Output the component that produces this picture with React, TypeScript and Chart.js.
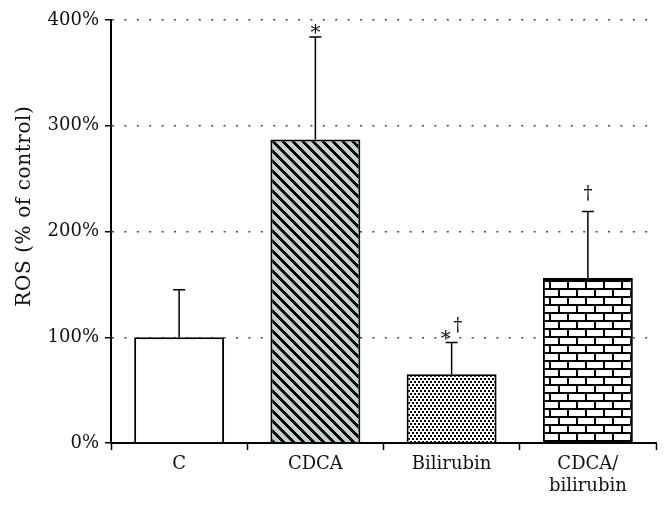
import React, { useEffect, useRef } from "react";
import { Chart, registerables } from "chart.js";

Chart.register(...registerables);

const categories: string[][] = [["C"], ["CDCA"], ["Bilirubin"], ["CDCA/", "bilirubin"]];
const rosMeans: number[] = [100, 287, 65, 156];
const rosUpperErrors: number[] = [45, 97, 30, 63];
const asteriskMarks: boolean[] = [false, true, true, false];
const daggerMarks: boolean[] = [false, false, true, true];
const yTickValues: number[] = [0, 100, 200, 300, 400];
const yTitle = "ROS (% of control)";

const FONT_FAMILY = "'DejaVu Serif', 'Liberation Serif', serif";

function makeTile(w: number, h: number, draw: (ctx: CanvasRenderingContext2D) => void): CanvasPattern | string {
  const c = document.createElement("canvas");
  c.width = w;
  c.height = h;
  const ctx = c.getContext("2d");
  if (!ctx) return "#fff";
  draw(ctx);
  const p = ctx.createPattern(c, "repeat");
  return p || "#fff";
}

function stripePattern() {
  return makeTile(10, 10, (ctx) => {
    ctx.fillStyle = "#c3d1ce";
    ctx.fillRect(0, 0, 10, 10);
    ctx.fillStyle = "#000";
    for (let y = 0; y < 10; y++) {
      for (let x = 0; x < 10; x++) {
        if ((((x - y) % 10) + 10) % 10 < 4) ctx.fillRect(x, y, 1, 1);
      }
    }
  });
}

function dotPattern() {
  return makeTile(4, 6, (ctx) => {
    ctx.fillStyle = "#fff";
    ctx.fillRect(0, 0, 4, 6);
    ctx.fillStyle = "#000";
    ctx.fillRect(0, 0, 2, 2);
    ctx.fillRect(2, 3, 2, 2);
  });
}

function brickPattern() {
  return makeTile(18, 16, (ctx) => {
    ctx.fillStyle = "#fff";
    ctx.fillRect(0, 0, 18, 16);
    ctx.fillStyle = "#000";
    ctx.fillRect(0, 0, 18, 2);
    ctx.fillRect(0, 8, 18, 2);
    ctx.fillRect(0, 0, 2, 8);
    ctx.fillRect(9, 8, 2, 8);
  });
}

const errorBarPlugin = {
  id: "errorBars",
  afterDatasetsDraw(chart: any) {
    const ctx = chart.ctx as CanvasRenderingContext2D;
    const xs = chart.scales.x;
    const ys = chart.scales.y;
    ctx.save();
    ctx.strokeStyle = "#000";
    ctx.lineWidth = 1.5;
    ctx.fillStyle = "#111";
    for (let i = 0; i < rosMeans.length; i++) {
      const x = xs.getPixelForValue(i);
      const y0 = ys.getPixelForValue(rosMeans[i]);
      const y1 = ys.getPixelForValue(rosMeans[i] + rosUpperErrors[i]);
      ctx.beginPath();
      ctx.moveTo(x, y0);
      ctx.lineTo(x, y1);
      ctx.moveTo(x - 6, y1);
      ctx.lineTo(x + 6, y1);
      ctx.stroke();
      ctx.font = `20px ${FONT_FAMILY}`;
      ctx.textAlign = "center";
      ctx.textBaseline = "alphabetic";
      const both = asteriskMarks[i] && daggerMarks[i];
      if (asteriskMarks[i]) {
        ctx.fillText("*", both ? x - 6 : x, y1 + 2);
      }
      if (daggerMarks[i]) {
        ctx.font = `18px ${FONT_FAMILY}`;
        ctx.fillText("\u2020", both ? x + 6 : x, y1 - 12);
      }
    }
    ctx.restore();
  },
};

const yTitlePlugin = {
  id: "yTitleDraw",
  afterDraw(chart: any) {
    const ctx = chart.ctx as CanvasRenderingContext2D;
    const area = chart.chartArea;
    const cy = area.top + (area.bottom - area.top) * 0.44;
    ctx.save();
    ctx.translate(25, cy);
    ctx.rotate(-Math.PI / 2);
    ctx.font = `20px ${FONT_FAMILY}`;
    (ctx as any).letterSpacing = "0.6px";
    ctx.fillStyle = "#111";
    ctx.textAlign = "center";
    ctx.textBaseline = "middle";
    ctx.fillText(yTitle, 0, 0);
    ctx.restore();
  },
};

export default function App() {
  const canvasRef = useRef<HTMLCanvasElement | null>(null);

  useEffect(() => {
    document.body.style.margin = "0";
    const canvas = canvasRef.current;
    if (!canvas) return;
    const chart = new Chart(canvas, {
      type: "bar",
      data: {
        labels: categories as any,
        datasets: [
          {
            data: rosMeans,
            backgroundColor: ["#ffffff", stripePattern(), dotPattern(), brickPattern()] as any,
            borderColor: "#000",
            borderWidth: 2,
            categoryPercentage: 1,
            barPercentage: 0.66,
          },
        ],
      },
      options: {
        responsive: false,
        animation: false,
        layout: { padding: { top: 20, right: 15, left: 0, bottom: 0 } },
        plugins: {
          legend: { display: false },
          tooltip: { enabled: false },
          title: { display: false },
        },
        scales: {
          x: {
            afterFit: (scale: any) => {
              scale.height = 71;
            },
            grid: {
              display: true,
              drawOnChartArea: false,
              drawTicks: true,
              tickLength: 7,
              tickColor: "#000",
              tickWidth: 1.5,
              color: "#000",
            },
            border: { display: true, color: "#000", width: 2 },
            ticks: {
              color: "#111",
              padding: 4,
              font: { family: FONT_FAMILY, size: 18 },
              maxRotation: 0,
              autoSkip: false,
            },
          },
          y: {
            min: 0,
            max: 400,
            afterFit: (scale: any) => {
              scale.width = 111;
            },
            afterBuildTicks: (scale: any) => {
              scale.ticks = yTickValues.map((v) => ({ value: v }));
            },
            grid: {
              display: true,
              drawOnChartArea: true,
              drawTicks: true,
              tickLength: 6,
              tickColor: "#000",
              tickWidth: 1.5,
              color: "#444",
              lineWidth: 1.5,
            },
            border: { display: true, color: "#000", width: 2, dash: [2, 10.4] },
            ticks: {
              color: "#111",
              padding: 6,
              font: { family: FONT_FAMILY, size: 18 },
              callback: (v: any) => `${v}%`,
            },
          },
        },
      },
      plugins: [errorBarPlugin, yTitlePlugin],
    });
    return () => chart.destroy();
  }, []);

  return (
    <div style={{ width: 671, height: 514, background: "#fff" }}>
      <canvas ref={canvasRef} width={671} height={514} style={{ display: "block" }} />
    </div>
  );
}
